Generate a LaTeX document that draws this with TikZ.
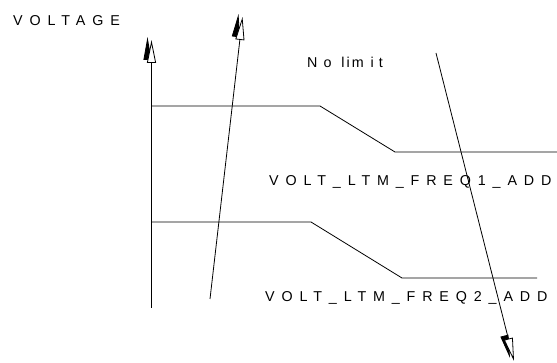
\documentclass[tikz,border=0pt]{standalone}
\usepackage{fontspec}
\setmainfont{Liberation Sans}
\newfontfamily\spacedfont[LetterSpace=48]{Liberation Sans}
\usetikzlibrary{arrows.meta,calc}
\tikzset{
  ln/.style={line width=0.8pt, black},
  openhead/.style={ln, -{Triangle[length=23pt,width=9pt,fill=white]}},
  shadowhead/.style={ln, -{Triangle[length=23pt,width=8pt,fill=black]}},
  lbl/.style={inner sep=0pt, anchor=base west, font=\fontsize{14.3pt}{16pt}\spacedfont},
  plainlbl/.style={inner sep=0pt, anchor=base west, font=\fontsize{14.3pt}{16pt}\selectfont},
}
\begin{document}
\begin{tikzpicture}[x=1pt,y=-1pt]
\useasboundingbox (0,0) rectangle (557,363);
% coordinates
\coordinate (axB) at (151.5,308);
\coordinate (axT) at (151.5,40);
\coordinate (a2B) at (210,299);
\coordinate (a2T) at (242.5,17);
\coordinate (a3B) at (436,53);
\coordinate (a3T) at (514,361);
\coordinate (c1a) at (151.5,106);
\coordinate (c1b) at (320,106);
\coordinate (c1c) at (395,152);
\coordinate (c1d) at (557,152);
\coordinate (c2a) at (151.5,222);
\coordinate (c2b) at (311,222);
\coordinate (c2c) at (402,278);
\coordinate (c2d) at (537,278);
% labels
\node[lbl] (volt) at (13,26) {VOLTAGE};
\node[lbl] (f1) at (269,186) {VOLT\_LTM\_FREQ1\_ADD};
\node[lbl] (f2) at (265,301.5) {VOLT\_LTM\_FREQ2\_ADD};
\node[plainlbl] (nolim) at (307,68) {N\kern6pt o\kern3pt\ \kern3pt l\kern2pt i\kern2pt m\kern7pt i\kern5pt t};
% curves
\draw[ln] (c1a) -- (c1b) -- (c1c) -- (c1d);
\draw[ln] (c2a) -- (c2b) -- (c2c) -- (c2d);
% arrows: shadow heads then open heads
\foreach \b/\t in {axB/axT, a2B/a2T, a3B/a3T}{
  \draw[shadowhead] ($(\t)!0.06!(\b)+(-4,-3)$) -- ($(\t)+(-4,-3)$);
  \draw[openhead] (\b) -- (\t);
}
\end{tikzpicture}
\end{document}
